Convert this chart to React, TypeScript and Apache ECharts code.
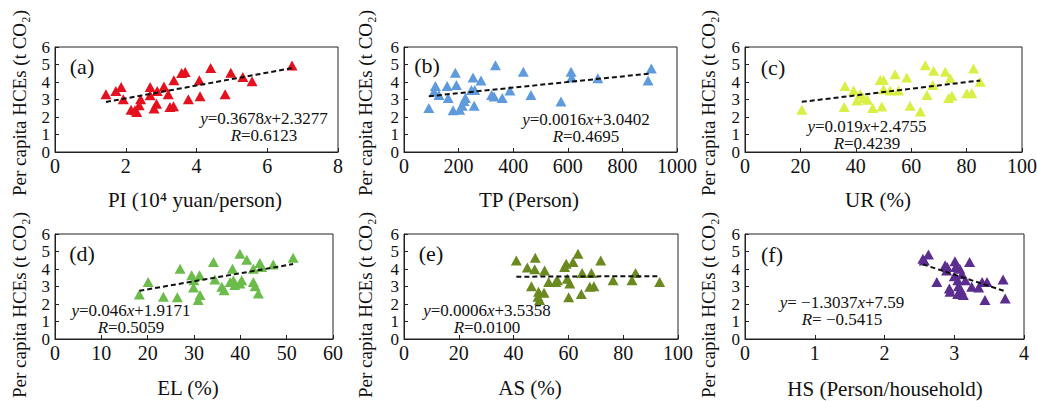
import React, { useEffect, useRef } from "react";
import * as echarts from "echarts";

// Per capita HCEs (t CO2) against six socio-economic factors
const yTickMax = 6;

// (a) PI (10^4 yuan/person)
const piX = [1.44, 1.72, 1.87, 1.93, 2.15, 2.26, 2.31, 2.38, 2.42, 2.69, 2.69, 2.8, 2.87, 2.89, 3.08, 3.2, 3.25, 3.35, 3.36, 3.58, 3.68, 3.77, 4.08, 4.1, 4.4, 4.81, 4.97, 5.31, 5.57, 6.7];
const piY = [3.3, 3.49, 3.71, 3.01, 2.42, 2.38, 2.29, 2.67, 3.01, 3.71, 3.24, 2.48, 2.76, 3.49, 3.75, 3.3, 2.57, 2.61, 4.1, 4.51, 4.57, 3.01, 4.1, 3.18, 4.8, 3.3, 4.53, 4.29, 4.04, 4.95];

// (b) TP (Person)
const tpX = [91, 115, 110, 128, 158, 162, 188, 192, 180, 204, 213, 220, 225, 247, 253, 257, 259, 282, 321, 330, 335, 360, 388, 437, 465, 575, 612, 614, 710, 894, 906];
const tpY = [2.51, 3.77, 3.45, 3.26, 3.77, 3.08, 4.53, 3.83, 2.38, 2.42, 2.64, 2.92, 3.08, 3.55, 4.26, 2.64, 3.55, 4.08, 3.26, 3.17, 4.96, 3.08, 3.51, 4.58, 3.26, 2.89, 4.58, 4.26, 4.21, 4.08, 4.77];

// (c) UR (%)
const urX = [20.5, 36.1, 35.8, 39.2, 40.4, 41.6, 42.8, 44.2, 46.1, 48.8, 50.0, 49.4, 50.0, 52.4, 54.2, 55.4, 58.4, 59.6, 63.3, 65.1, 65.7, 68.1, 67.8, 72.3, 73.5, 74.1, 74.7, 80.1, 81.9, 82.5, 84.9];
const urY = [2.42, 3.77, 2.57, 3.51, 2.94, 3.32, 3.08, 2.98, 2.51, 4.11, 4.11, 2.6, 3.58, 3.51, 4.45, 3.51, 4.26, 2.64, 2.32, 4.96, 3.26, 4.64, 3.83, 4.58, 3.08, 4.21, 3.21, 3.36, 3.36, 4.77, 4.02];

// (d) EL (%)
const elX = [18.2, 20.1, 23.4, 26.4, 27.0, 29.5, 29.9, 30.0, 30.9, 31.3, 31.2, 34.2, 34.5, 36.0, 36.5, 37.8, 38.3, 38.5, 38.8, 39.9, 39.9, 40.3, 41.4, 42.8, 42.8, 43.2, 43.9, 44.2, 44.6, 47.1, 51.4];
const elY = [2.55, 3.26, 2.42, 2.38, 4.02, 3.64, 2.94, 3.36, 2.23, 2.51, 3.64, 4.4, 3.4, 2.98, 2.79, 3.26, 4.02, 3.36, 3.08, 4.87, 3.17, 3.36, 4.53, 4.02, 3.26, 3.02, 2.6, 4.34, 4.11, 4.26, 4.64];

// (e) AS (%)
const asX = [41.0, 45.0, 46.5, 47.7, 47.9, 48.9, 49.1, 49.5, 51.1, 51.3, 52.8, 55.4, 56.0, 58.6, 59.2, 59.6, 60.1, 60.5, 61.7, 63.5, 64.7, 65.0, 67.8, 68.4, 69.3, 71.8, 76.3, 83.2, 84.5, 93.3];
const asY = [4.49, 4.08, 3.02, 3.98, 4.64, 2.42, 2.7, 2.23, 2.64, 3.92, 3.26, 3.26, 3.36, 4.11, 4.3, 3.45, 2.38, 3.17, 4.4, 4.87, 2.57, 3.77, 2.98, 3.77, 3.02, 4.49, 3.36, 3.36, 3.77, 3.26];

// (f) HS (Person/household)
const hsX = [2.55, 2.57, 2.63, 2.75, 2.87, 2.89, 2.93, 2.94, 2.9, 3.01, 3.02, 3.05, 3.06, 3.05, 3.08, 3.11, 3.13, 3.16, 3.1, 3.22, 3.25, 3.35, 3.4, 3.44, 3.47, 3.7, 3.73, 3.0];
const hsY = [4.58, 4.49, 4.83, 3.26, 4.21, 3.92, 2.89, 2.7, 4.11, 4.45, 4.11, 3.36, 3.02, 2.57, 4.02, 3.7, 2.51, 3.36, 2.79, 4.4, 2.98, 2.94, 3.26, 2.23, 3.26, 3.4, 2.32, 3.58];

// Linear fits: slope, intercept, correlation
const slopes = [0.3678, 0.0016, 0.019, 0.046, 0.0006, -1.3037];
const intercepts = [2.3277, 3.0402, 2.4755, 1.9171, 3.5358, 7.59];
const rValues = ["0.6123", "0.4695", "0.4239", "0.5059", "0.0100", "-0.5415"];

const panelTags = ["(a)", "(b)", "(c)", "(d)", "(e)", "(f)"];
const xTitles = ["PI (10\u2074 yuan/person)", "TP (Person)", "UR (%)", "EL (%)", "AS (%)", "HS (Person/household)"];
const xMaxes = [8, 1000, 100, 60, 100, 4];
const xIntervals = [2, 200, 20, 10, 20, 1];
const yTitle = "Per capita HCEs (t CO\u2082)";

const xs = [piX, tpX, urX, elX, asX, hsX];
const ys = [piY, tpY, urY, elY, asY, hsY];
const colors = ["#e3121e", "#5f9bdc", "#d9ef45", "#6cbc4c", "#6a8a1f", "#5b2d8e"];

// Layout of the six plot boxes and their annotations
const layout = [
  { left: 55, top: 47, width: 283, height: 105, tag: [82, 66], eq: [264, 127], xt: [195, 200], yt: [19, 103] },
  { left: 404, top: 47, width: 273, height: 105, tag: [427, 65], eq: [586, 128], xt: [529, 200], yt: [365, 103] },
  { left: 745, top: 47, width: 277, height: 105, tag: [773, 67], eq: [867, 135], xt: [878, 200], yt: [708, 103] },
  { left: 55, top: 234, width: 278, height: 105, tag: [82, 253], eq: [131, 319], xt: [188, 388], yt: [19, 305] },
  { left: 404, top: 234, width: 274, height: 105, tag: [431, 253], eq: [487, 319], xt: [530, 388], yt: [365, 305] },
  { left: 745, top: 234, width: 279, height: 105, tag: [772, 254], eq: [842, 311], xt: [885, 389], yt: [708, 305] },
];

const serif = '"Liberation Serif", "Times New Roman", serif';
const ink = "#111";
const eqFont = 17;
const eqLine = 17.5;

const fmtSigned = (v: string | number) => {
  const s = String(v);
  return s.startsWith("-") ? " \u2212" + s.slice(1) : s;
};

export default function App() {
  const ref = useRef<HTMLDivElement>(null);

  useEffect(() => {
    if (!ref.current) return;
    const chart = echarts.init(ref.current, undefined, { renderer: "svg" });

    const grids: any[] = [];
    const xAxes: any[] = [];
    const yAxes: any[] = [];
    const series: any[] = [];
    const graphics: any[] = [];

    const richBase = {
      i: { fontFamily: serif, fontSize: eqFont, fontStyle: "italic", fill: ink, color: ink, lineHeight: eqLine },
      n: { fontFamily: serif, fontSize: eqFont, fill: ink, color: ink, lineHeight: eqLine },
    };

    const tickLabel = {
      color: ink,
      fontSize: 20,
      fontFamily: serif,
      hideOverlap: false,
      showMinLabel: true,
      showMaxLabel: true,
      formatter: (v: number) => String(v),
    };

    layout.forEach((g, i) => {
      grids.push({
        left: g.left,
        top: g.top,
        width: g.width,
        height: g.height,
        show: true,
        borderColor: "#222",
        borderWidth: 1,
        backgroundColor: "transparent",
        containLabel: false,
        outerBoundsMode: "none",
      });
      xAxes.push({
        gridIndex: i,
        type: "value",
        min: 0,
        max: xMaxes[i],
        interval: xIntervals[i],
        axisLine: { show: true, onZero: false, lineStyle: { color: "#222", width: 1 } },
        axisTick: { show: true, inside: true, length: 4, lineStyle: { color: "#222" } },
        axisLabel: { ...tickLabel, margin: 4 },
        splitLine: { show: false },
      });
      yAxes.push({
        gridIndex: i,
        type: "value",
        min: 0,
        max: yTickMax,
        interval: 1,
        axisLine: { show: true, onZero: false, lineStyle: { color: "#222", width: 1 } },
        axisTick: { show: true, inside: true, length: 4, lineStyle: { color: "#222" } },
        // 17px keeps the seven stacked labels from overlapping
        axisLabel: { ...tickLabel, margin: 5, fontSize: 17 },
        splitLine: { show: false },
      });

      const pts = xs[i].map((x, k) => [x, ys[i][k]]);
      series.push({
        type: "scatter",
        xAxisIndex: i,
        yAxisIndex: i,
        symbol: "triangle",
        symbolSize: [11, 10],
        itemStyle: { color: colors[i], opacity: 1 },
        data: pts,
        z: 2,
      });

      // dashed fit line over the observed x range
      const x0 = Math.min(...xs[i]);
      const x1 = Math.max(...xs[i]);
      series.push({
        type: "line",
        xAxisIndex: i,
        yAxisIndex: i,
        symbol: "none",
        silent: true,
        lineStyle: { color: "#111", width: 2, type: [5, 3] },
        data: [
          [x0, slopes[i] * x0 + intercepts[i]],
          [x1, slopes[i] * x1 + intercepts[i]],
        ],
        z: 3,
      });

      graphics.push({
        type: "text",
        x: g.tag[0],
        y: g.tag[1],
        style: {
          text: panelTags[i],
          fontFamily: serif,
          fontSize: 22,
          fill: ink,
          align: "center",
          verticalAlign: "middle",
        },
        z: 10,
      });
      // fit equation and correlation, two centred lines
      graphics.push({
        type: "text",
        x: g.eq[0],
        y: g.eq[1],
        style: {
          text:
            `{i|y}{n|=${fmtSigned(slopes[i])}}{i|x}{n|+${intercepts[i]}}` +
            "\n" +
            `{i|R}{n|=${fmtSigned(rValues[i])}}`,
          rich: richBase,
          fontFamily: serif,
          fontSize: eqFont,
          lineHeight: eqLine,
          fill: ink,
          align: "center",
          verticalAlign: "middle",
        },
        z: 10,
      });
      graphics.push({
        type: "text",
        x: g.xt[0],
        y: g.xt[1],
        style: {
          text: xTitles[i],
          fontFamily: serif,
          fontSize: 21,
          fill: ink,
          align: "center",
          verticalAlign: "middle",
        },
      });
      graphics.push({
        type: "text",
        x: g.yt[0],
        y: g.yt[1],
        rotation: Math.PI / 2,
        style: {
          text: yTitle,
          fontFamily: serif,
          fontSize: 19,
          fill: ink,
          align: "center",
          verticalAlign: "middle",
        },
      });
    });

    chart.setOption({
      animation: false,
      backgroundColor: "#ffffff",
      grid: grids,
      xAxis: xAxes,
      yAxis: yAxes,
      series,
      graphic: graphics,
    });

    return () => chart.dispose();
  }, []);

  return (
    <div
      ref={ref}
      style={{ position: "fixed", left: 0, top: 0, width: 1037, height: 401, background: "#fff" }}
    />
  );
}
